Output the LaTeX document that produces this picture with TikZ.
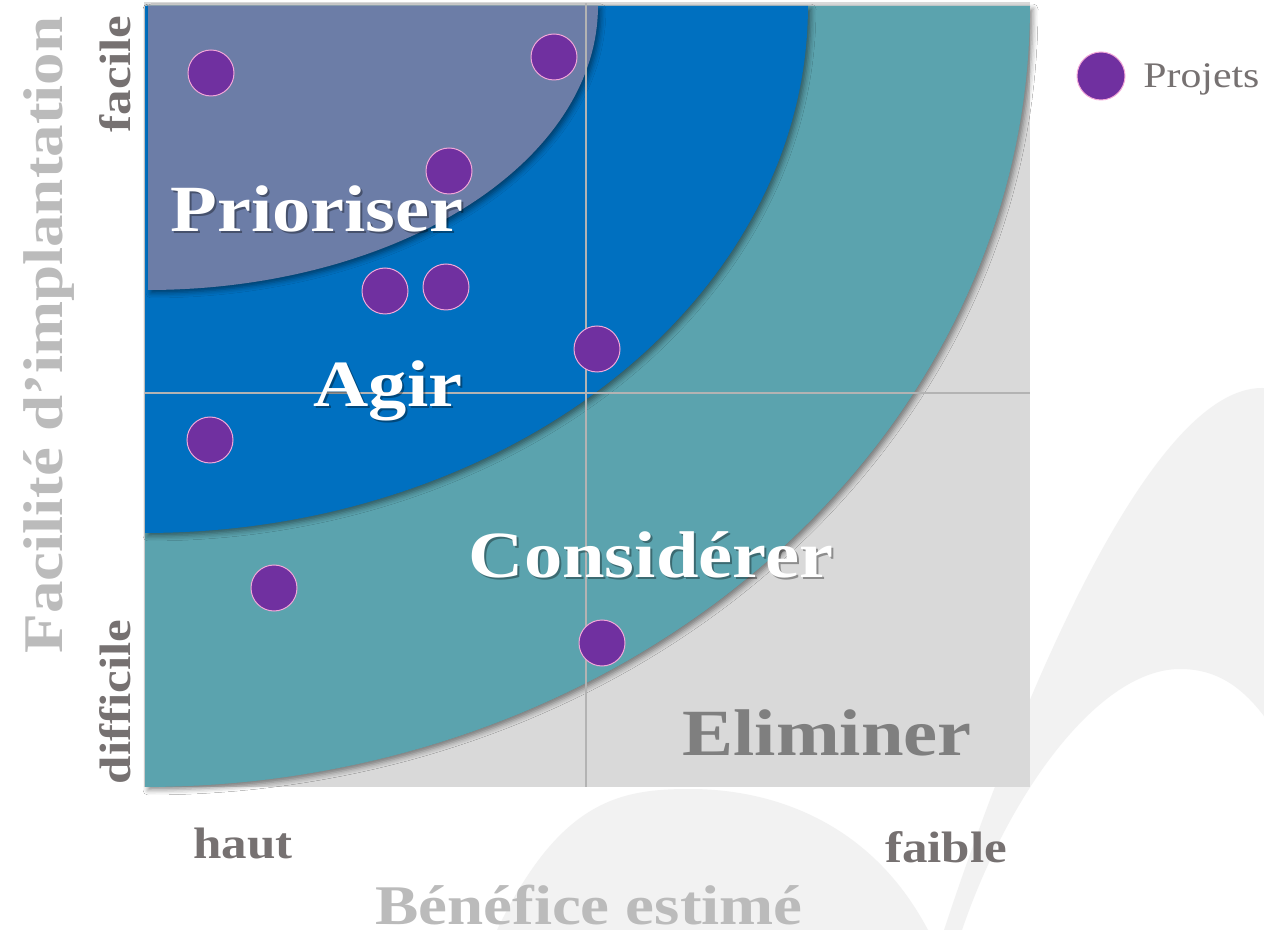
\documentclass[tikz,border=0pt]{standalone}
\usepackage{fontspec}
\setmainfont{Liberation Serif}[FakeStretch=1.16]
\usetikzlibrary{shadows.blur}

\definecolor{zprio}{HTML}{6C7DA7}
\definecolor{zagir}{HTML}{0070C0}
\definecolor{zcons}{HTML}{5BA3AE}
\definecolor{zelim}{HTML}{D9D9D9}
\definecolor{projet}{HTML}{7030A0}
\definecolor{projetbord}{HTML}{F2A7D8}
\definecolor{axegris}{HTML}{BBBBBB}
\definecolor{gristexte}{HTML}{767171}
\definecolor{elimgris}{HTML}{7F7F7F}
\definecolor{grille}{HTML}{B3B3B3}
\definecolor{fond}{HTML}{F2F2F2}

\tikzset{
  zone/.style={font=\bfseries\fontsize{33}{36}\selectfont, text=white, inner sep=0pt, anchor=base},
  zoneombre/.style={zone, text=black, opacity=0.35},
  borne/.style={font=\bfseries\fontsize{22}{24}\selectfont, text=gristexte, inner sep=0pt, anchor=base},
  titre/.style={font=\bfseries\fontsize{28}{30}\selectfont, text=axegris, inner sep=0pt, anchor=base},
  proj/.style={circle, fill=projet, draw=projetbord, line width=0.5pt, minimum size=23pt, inner sep=0pt},
  secteur/.style={blur shadow={shadow xshift=1.5pt, shadow yshift=-1.5pt, shadow blur radius=2.5pt, shadow opacity=45}},
}

\begin{document}
\begin{tikzpicture}[x=0.5pt,y=-0.5pt]
\useasboundingbox (0,0) rectangle (1264,930);
\fill[white] (0,0) rectangle (1264,930);
% motif clair du fond
\begin{scope}
\clip (0,0) rectangle (1264,930);
\fill[fond] (497,930) .. controls (560,800) and (620,789) .. (690,789) .. controls (770,789) and (870,820) .. (928,930) -- cycle;
\fill[fond] (944,930) .. controls (1020,700) and (1150,388) .. (1262,388) .. controls (1310,388) and (1330,430) .. (1350,480) -- (1320,800) -- (1280,740) .. controls (1250,690) and (1220,669) .. (1180,669) .. controls (1100,669) and (1010,790) .. (962,930) -- cycle;
\end{scope}

% zones
\fill[zelim] (144,2) rectangle (1030,787);
\fill[zcons,secteur] (145,6) -- plot[domain=0:90,samples=80] ({145+885*cos(\x)},{6+781*sin(\x)}) -- cycle;
\fill[zagir,secteur] (145,6) -- plot[domain=0:90,samples=80] ({145+663*cos(\x)},{6+527*sin(\x)}) -- cycle;
\fill[zprio,secteur] (148,6) -- plot[domain=0:90,samples=80] ({148+450*cos(\x)},{6+284*sin(\x)}) -- cycle;

% quadrants
\draw[grille,line width=1pt] (145,393) -- (1030,393);
\draw[grille,line width=1pt] (586,3) -- (586,787);

\node[zoneombre] (prio-o) at (319,234) {Prioriser};
\node[zone] (prio) at (317,232) {Prioriser};
\node[zoneombre] (agir-o) at (390,409) {Agir};
\node[zone] (agir) at (388,407) {Agir};
\node[zoneombre] (cons-o) at (653,579) {Considérer};
\node[zone] (cons) at (651,577) {Considérer};
\node[zone,text=elimgris] (elim) at (827,755) {Eliminer};

% projets
\node[proj] (p1) at (211,73) {};
\node[proj] (p2) at (554,57) {};
\node[proj] (p3) at (449,171) {};
\node[proj] (p4) at (385,291) {};
\node[proj] (p5) at (446,287) {};
\node[proj] (p6) at (597,349) {};
\node[proj] (p7) at (210,440) {};
\node[proj] (p8) at (274,588) {};
\node[proj] (p9) at (602,643) {};

% axes
\node[borne,rotate=90] (facile) at (130,74) {facile};
\node[borne,rotate=90] (difficile) at (130,702) {difficile};
\node[borne] (haut) at (243,858) {haut};
\node[borne] (faible) at (946,862) {faible};
\node[titre,rotate=90] (ytitre) at (62,335) {Facilité d’implantation};
\node[titre] (xtitre) at (589,924) {Bénéfice estimé};

% legende
\node[proj,minimum size=24pt] (leg) at (1101,76) {};
\node[font=\fontsize{18}{20}\selectfont,text=gristexte,anchor=base west,inner sep=0pt] (legtxt) at (1143,88) {Projets};
\end{tikzpicture}
\end{document}
